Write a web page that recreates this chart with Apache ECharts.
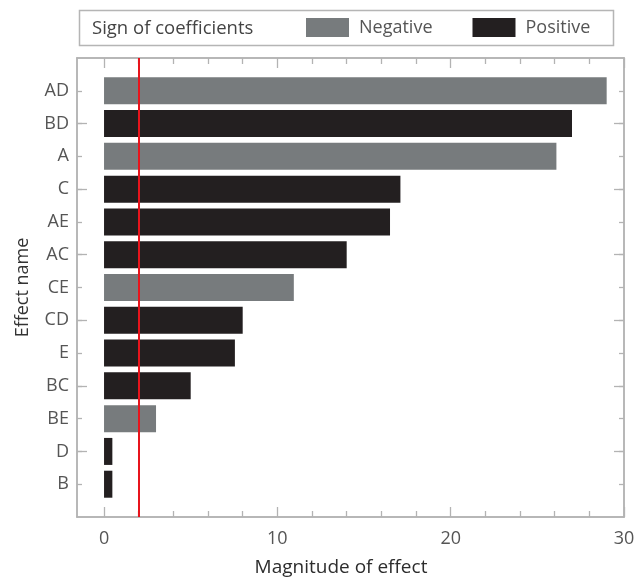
<!DOCTYPE html>
<html><head><meta charset="utf-8">
<script src="https://cdn.jsdelivr.net/npm/echarts@6/dist/echarts.min.js"></script>
<style>html,body{margin:0;padding:0;background:#fff}#c{width:643px;height:578px}</style>
</head><body><div id="c"></div>
<script>
// ---- data (top to bottom as shown) ----
const effects = ['AD','BD','A','C','AE','AC','CE','CD','E','BC','BE','D','B'];
const magnitudes = [29.0, 27.0, 26.1, 17.1, 16.5, 14.0, 10.95, 8.0, 7.55, 5.0, 3.0, 0.48, 0.48];
const signs = ['Negative','Positive','Negative','Positive','Positive','Positive','Negative','Positive','Positive','Positive','Negative','Positive','Positive'];
const seriesNames = ['Negative','Positive'];
const majorTicks = [0, 10, 20, 30];
const minorTicks = [2, 4, 6, 8, 12, 14, 16, 18, 22, 24, 26, 28];
const threshold = 1.98;
const legendTitle = 'Sign of coefficients';
const xName = 'Magnitude of effect';
const yName = 'Effect name';

// ---- build ----
const FONT = '"Open Sans", Roboto, sans-serif';
const FS = 18;
const AX = '#b3b3b3';
const bottomUp = effects.slice().reverse();
const cats = [''].concat(bottomUp, ['']);
const magUp = magnitudes.slice().reverse();
const signUp = signs.slice().reverse();
function seriesData(name) {
  return ['-'].concat(magUp.map((v, i) => signUp[i] === name ? v : '-'), ['-']);
}
const colors = { Negative: '#777b7d', Positive: '#231f20' };

function xAx(position, ticks, len, labels) {
  return {
    type: 'value', position: position, min: -1.56, max: 30, gridIndex: 0,
    axisLine: { show: true, onZero: false, lineStyle: { color: AX, width: 1.5 } },
    axisTick: { show: true, inside: true, length: len, customValues: ticks, lineStyle: { color: AX, width: 1.3 } },
    axisLabel: labels ? { show: true, customValues: majorTicks, margin: 13, fontSize: FS, color: '#555', fontFamily: FONT } : { show: false },
    splitLine: { show: false },
    name: labels ? xName : '', nameLocation: 'middle', nameGap: 41, nameMoveOverlap: false,
    nameTextStyle: { fontSize: 19, color: '#2d2d2d', fontFamily: FONT, fontWeight: 500, padding: [0, 19, 0, 0] }
  };
}
function yAx(position, longOnly, len, labels) {
  return {
    type: 'category', data: cats, position: position, boundaryGap: false, gridIndex: 0,
    axisLine: { show: true, onZero: false, lineStyle: { color: AX, width: 1.5 } },
    axisTick: {
      show: true, inside: true, length: len, lineStyle: { color: AX, width: 1.3 },
      interval: function (idx) { return idx > 0 && idx < cats.length - 1 && (longOnly ? idx % 2 === 0 : true); }
    },
    axisLabel: labels ? { show: true, interval: 0, margin: 8, fontSize: FS, color: '#555', fontFamily: FONT } : { show: false },
    splitLine: { show: false },
    name: labels ? yName : '', nameLocation: 'middle', nameGap: 45, nameRotate: 90, nameMoveOverlap: false,
    nameTextStyle: { fontSize: FS, color: '#333', fontFamily: FONT }
  };
}

const chart = echarts.init(document.getElementById('c'), null, { renderer: 'canvas' });
chart.setOption({
  animation: false,
  backgroundColor: '#fff',
  textStyle: { fontFamily: FONT },
  grid: { left: 77, right: 19, top: 58, bottom: 61, containLabel: false, outerBoundsMode: 'none' },
  xAxis: [
    xAx('bottom', majorTicks, 10, true),
    xAx('bottom', minorTicks, 6, false),
    xAx('top', majorTicks, 10, false),
    xAx('top', minorTicks, 6, false)
  ],
  yAxis: [
    yAx('left', false, 5, true),
    yAx('left', true, 10, false),
    yAx('right', false, 5, false),
    yAx('right', true, 10, false)
  ],
  legend: {
    left: 306, top: 18, padding: 0, itemWidth: 43, itemHeight: 19, itemGap: 40, icon: 'rect',
    selectedMode: false, data: seriesNames,
    textStyle: { fontSize: FS, color: '#555', fontFamily: FONT, padding: [0, 0, 0, 5] }
  },
  graphic: [
    { type: 'rect', shape: { x: 79.5, y: 10.5, width: 534, height: 35 }, style: { fill: 'none', stroke: '#b5b5b5', lineWidth: 1.5 }, silent: true },
    { type: 'text', x: 92, y: 29, style: { text: legendTitle, fontSize: 18.5, fill: '#444', fontFamily: FONT, verticalAlign: 'middle', textVerticalAlign: 'middle' }, silent: true }
  ],
  series: seriesNames.map((n, k) => ({
    name: n, type: 'bar', xAxisIndex: 0, yAxisIndex: 0,
    data: seriesData(n), barWidth: 27, barGap: '-100%',
    itemStyle: { color: colors[n] },
    z: 2,
    markLine: k === 0 ? {
      silent: true, symbol: ['none', 'none'], label: { show: false },
      lineStyle: { color: '#e8141c', width: 2, type: 'solid' },
      data: [{ xAxis: threshold }], z: 5
    } : undefined
  }))
});
</script></body></html>
